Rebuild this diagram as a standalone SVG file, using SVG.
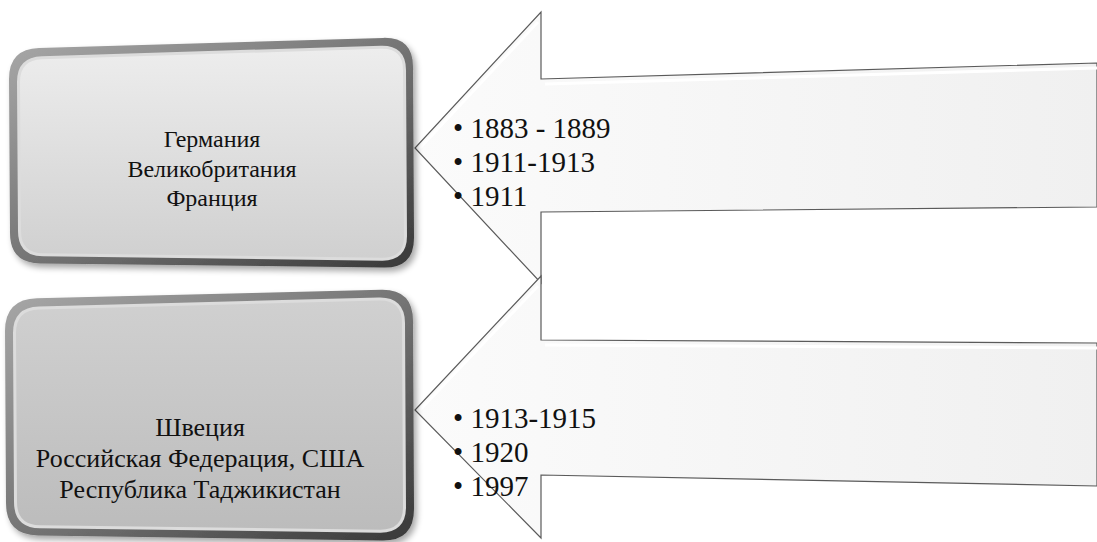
<svg xmlns="http://www.w3.org/2000/svg" width="1097" height="542" viewBox="0 0 1097 542">
  <defs>
    <linearGradient id="boxFillTop" x1="0" y1="0" x2="0" y2="1">
      <stop offset="0" stop-color="#ededed"/>
      <stop offset="1" stop-color="#d0d0d0"/>
    </linearGradient>
    <linearGradient id="boxFillBottom" x1="0" y1="0" x2="0" y2="1">
      <stop offset="0" stop-color="#d0d0d0"/>
      <stop offset="1" stop-color="#bcbcbc"/>
    </linearGradient>
    <linearGradient id="rim" x1="0" y1="0" x2="1" y2="1">
      <stop offset="0" stop-color="#a8a8a8"/>
      <stop offset="0.55" stop-color="#707070"/>
      <stop offset="1" stop-color="#383838"/>
    </linearGradient>
    <linearGradient id="arrowFill" x1="0" y1="0" x2="1" y2="0">
      <stop offset="0" stop-color="#fbfbfb"/>
      <stop offset="1" stop-color="#f0f0f0"/>
    </linearGradient>
    <filter id="shadow" x="-10%" y="-10%" width="120%" height="125%">
      <feGaussianBlur in="SourceAlpha" stdDeviation="3"/>
      <feOffset dx="3" dy="4"/>
      <feComponentTransfer><feFuncA type="linear" slope="0.35"/></feComponentTransfer>
      <feMerge><feMergeNode/><feMergeNode in="SourceGraphic"/></feMerge>
    </filter>
  </defs>
  <style>
    .rim { fill: url(#rim); filter: url(#shadow); }
    .bevel { fill: none; stroke: #dcdcdc; stroke-width: 6; }
    .label { font-family: "Liberation Serif", "Times New Roman", serif; fill: #111; text-anchor: middle; }
    .top { font-size: 24px; }
    .bottom { font-size: 26px; }
    .dates { font-family: "Liberation Serif", "Times New Roman", serif; font-size: 29px; fill: #111; }
    .arrow { fill: url(#arrowFill); stroke: #5a5a5a; stroke-width: 1.2; stroke-linejoin: miter; }
    .arrowHi { fill: none; stroke: #ffffff; stroke-width: 3; opacity: 0.9; }
  </style>

  <rect width="1097" height="542" fill="#ffffff"/>

  <!-- arrows pointing at the boxes -->
  <g id="connectors">
    <g id="arrow-top">
      <polygon class="arrow" points="541,12 541,79 1097,63 1097,207 541,212 541,283 415,148"/>
      <polyline class="arrowHi" points="538,22 420,148"/>
      <line x1="545" y1="84" x2="1097" y2="68" stroke="#ffffff" stroke-width="3"/>
      <text class="dates" x="453" y="138">• 1883 - 1889</text>
      <text class="dates" x="453" y="172">• 1911-1913</text>
      <text class="dates" x="453" y="206">• 1911</text>
    </g>
    <g id="arrow-bottom">
      <polygon class="arrow" points="541,276 541,340 1097,343 1097,486 541,475 541,538 415,410"/>
      <polyline class="arrowHi" points="538,286 420,410"/>
      <line x1="545" y1="345" x2="1097" y2="348" stroke="#ffffff" stroke-width="3"/>
      <text class="dates" x="453" y="428">• 1913-1915</text>
      <text class="dates" x="453" y="462">• 1920</text>
      <text class="dates" x="453" y="496">• 1997</text>
    </g>
  </g>

  <!-- country boxes (slightly tilted rounded frames) -->
  <g id="box-top">
    <path class="rim" d="M 39,48.1 L 383,37.9 Q 413,37 413,67 L 414,238 Q 414,268 384,267.6 L 40,263.4 Q 10,263 10,233 L 9,79 Q 9,49 39,48.1 Z"/>
    <path class="bevel" d="M 42,59.3 L 381,48.7 Q 403,48 403,70 L 404,236 Q 404,258 382,257.7 L 43,253.3 Q 21,253 21,231 L 20,82 Q 20,60 42,59.3 Z"/>
    <path fill="url(#boxFillTop)" d="M 42,59.3 L 381,48.7 Q 403,48 403,70 L 404,236 Q 404,258 382,257.7 L 43,253.3 Q 21,253 21,231 L 20,82 Q 20,60 42,59.3 Z"/>
    <text class="label top" x="212" y="147">Германия</text>
    <text class="label top" x="212" y="177">Великобритания</text>
    <text class="label top" x="212" y="206">Франция</text>
  </g>
  <g id="box-bottom">
    <path class="rim" d="M 37,298.2 L 381,289.8 Q 413,289 413,321 L 414,509 Q 414,541 382,540.6 L 38,535.4 Q 6,535 6,503 L 5,331 Q 5,299 37,298.2 Z"/>
    <path class="bevel" d="M 39,309.4 L 379,300.6 Q 402,300 402,323 L 403,507 Q 403,530 380,529.7 L 40,525.3 Q 17,525 17,502 L 16,333 Q 16,310 39,309.4 Z"/>
    <path fill="url(#boxFillBottom)" d="M 39,309.4 L 379,300.6 Q 402,300 402,323 L 403,507 Q 403,530 380,529.7 L 40,525.3 Q 17,525 17,502 L 16,333 Q 16,310 39,309.4 Z"/>
    <text class="label bottom" x="200" y="436">Швеция</text>
    <text class="label bottom" x="200" y="467">Российская Федерация, США</text>
    <text class="label bottom" x="200" y="498">Республика Таджикистан</text>
  </g>
</svg>
